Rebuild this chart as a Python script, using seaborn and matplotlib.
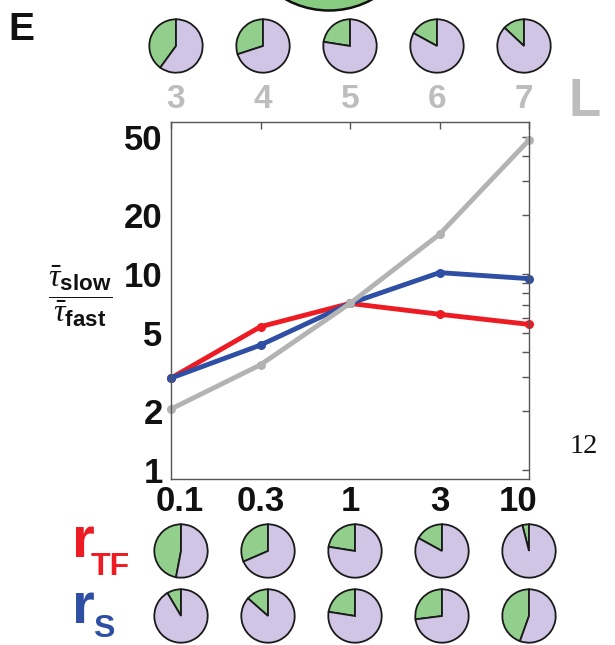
import numpy as np
import pandas as pd
import matplotlib
matplotlib.use("Agg")
import matplotlib.pyplot as plt
import matplotlib.transforms as mtransforms
from matplotlib.patches import Circle
from matplotlib.ticker import FixedLocator, NullFormatter
import seaborn as sns

# rate values along the bottom axis, chain lengths along the top
rates = ["0.1", "0.3", "1", "3", "10"]
lengths = ["3", "4", "5", "6", "7"]

# ratio of mean slow to mean fast time scale for each varied parameter
ratio_rtf = [2.95, 5.4, 7.1, 6.25, 5.55]
ratio_rs = [2.95, 4.35, 7.1, 10.2, 9.5]
ratio_len = [2.05, 3.45, 7.1, 16.0, 48.5]

# green share of each pie
pie_len = [0.40, 0.30, 0.225, 0.17, 0.13]
pie_rtf = [0.47, 0.315, 0.225, 0.17, 0.04]
pie_rs = [0.085, 0.135, 0.225, 0.27, 0.445]

ytick_vals = [1, 2, 5, 10, 20, 50]
yminor_vals = [3, 4, 6, 7, 8, 9, 30, 40]

RED = "#ED1C24"
BLUE = "#2E4FA3"
GRAY = "#B3B3B3"
LABEL_GRAY = "#BDBDBD"
GREEN = "#92CF8C"
LAVENDER = "#D0C5E5"
SPINE = "#555555"

sns.set_style("white")
plt.rcParams["font.family"] = ["Liberation Sans", "DejaVu Sans"]
plt.rcParams["mathtext.fontset"] = "custom"
plt.rcParams["mathtext.rm"] = "Liberation Sans"
plt.rcParams["mathtext.bf"] = "Liberation Sans:bold"
plt.rcParams["mathtext.it"] = "Liberation Serif:italic"

W, H = 615, 645
fig = plt.figure(figsize=(W / 100, H / 100), dpi=100)


def fx(x):
    return x / W


def fy(y):
    return 1 - y / H


# main log-scale panel
ax = fig.add_axes([fx(171), fy(479), (529 - 171) / W, (479 - 122) / H])
df = pd.DataFrame({
    "pos": list(range(len(rates))) * 3,
    "ratio": ratio_rtf + ratio_rs + ratio_len,
    "series": ["rTF"] * 5 + ["rS"] * 5 + ["L"] * 5,
})
sns.lineplot(data=df, x="pos", y="ratio", hue="series",
             hue_order=["rTF", "rS", "L"], palette=[RED, BLUE, GRAY],
             marker="o", markersize=6.5, markeredgewidth=0, linewidth=3.5,
             legend=False, clip_on=False, ax=ax)

ax.set_yscale("log")
ax.set_ylim(0.9, 60)
ax.set_xlim(0, len(rates) - 1)
ax.set_xlabel("")
ax.set_ylabel("")
ax.set_yticks(ytick_vals)
ax.set_yticklabels([str(v) for v in ytick_vals])
ax.yaxis.set_minor_locator(FixedLocator(yminor_vals))
ax.yaxis.set_minor_formatter(NullFormatter())
ax.set_xticks(range(len(rates)))
ax.set_xticklabels(rates)
ax.tick_params(axis="both", which="both", direction="in", top=True,
               right=True, length=5, width=1, color=SPINE)
ax.tick_params(axis="y", labelsize=25, pad=6)
ax.tick_params(axis="x", labelsize=25, pad=4)
for lab in ax.get_xticklabels() + ax.get_yticklabels():
    lab.set_fontweight("bold")
    lab.set_color("#111111")
for sp in ax.spines.values():
    sp.set_color(SPINE)
    sp.set_linewidth(1)

# nudge the outermost rate labels inward
xl = ax.get_xticklabels()
xl[0].set_transform(xl[0].get_transform() +
                    mtransforms.ScaledTranslation(0.09, 0, fig.dpi_scale_trans))
xl[-1].set_transform(xl[-1].get_transform() +
                     mtransforms.ScaledTranslation(-0.11, 0, fig.dpi_scale_trans))

# chain length labels above the panel
for i, lab in enumerate(lengths):
    fig.text(fx(350 + (i - 2) * 87), fy(100), lab, ha="center", va="center",
             fontsize=24, fontweight="bold", color=LABEL_GRAY)
fig.text(fx(568), fy(116), "L", ha="left", va="baseline", fontsize=38,
         fontweight="bold", color=LABEL_GRAY)


def draw_pie(cx, cy, share, d=55):
    pax = fig.add_axes([fx(cx - d / 2), fy(cy + d / 2), d / W, d / H])
    pax.pie([share, 1 - share], colors=[GREEN, LAVENDER], startangle=90,
            counterclock=True,
            wedgeprops=dict(edgecolor="#1a1a1a", linewidth=1.3))
    pax.set_xlim(-1.03, 1.03)
    pax.set_ylim(-1.03, 1.03)
    pax.set_aspect("equal")
    pax.axis("off")


for i, s in enumerate(pie_len):
    draw_pie(350 + (i - 2) * 87, 46, s)
for i, s in enumerate(pie_rtf):
    draw_pie(355 + (i - 2) * 87, 551, s)
for i, s in enumerate(pie_rs):
    draw_pie(355 + (i - 2) * 87, 616, s)

# row labels for the two rate pie rows
fig.text(fx(72), fy(557), "r", ha="left", va="baseline", fontsize=42,
         fontweight="bold", color=RED)
fig.text(fx(91), fy(575), "TF", ha="left", va="baseline", fontsize=23,
         fontweight="bold", color=RED)
fig.text(fx(72), fy(623), "r", ha="left", va="baseline", fontsize=42,
         fontweight="bold", color=BLUE)
fig.text(fx(93), fy(637), "S", ha="left", va="baseline", fontsize=23,
         fontweight="bold", color=BLUE)

# y-axis quantity as a fraction
fig.text(fx(80), fy(296),
         r"$\dfrac{\bar{\tau}_{\mathbf{slow}}}{\bar{\tau}_{\mathbf{fast}}}$",
         ha="center", va="center", fontsize=23, color="#111111")

# panel letter, page number and the edge of the neighbouring panel's circle
fig.text(fx(8.5), fy(40), "E", ha="left", va="baseline", fontsize=28,
         fontweight="bold", color="#111111")
fig.text(fx(570), fy(453), "12", ha="left", va="baseline", fontsize=20.5,
         family=["Liberation Serif", "DejaVu Serif"], color="#111111")
fig.add_artist(Circle((3.29, (H + 79) / 100), 0.895, transform=fig.dpi_scale_trans,
                      facecolor="#86CB80", edgecolor="#111111", linewidth=1.8))

fig.savefig("out.png", dpi=100)
